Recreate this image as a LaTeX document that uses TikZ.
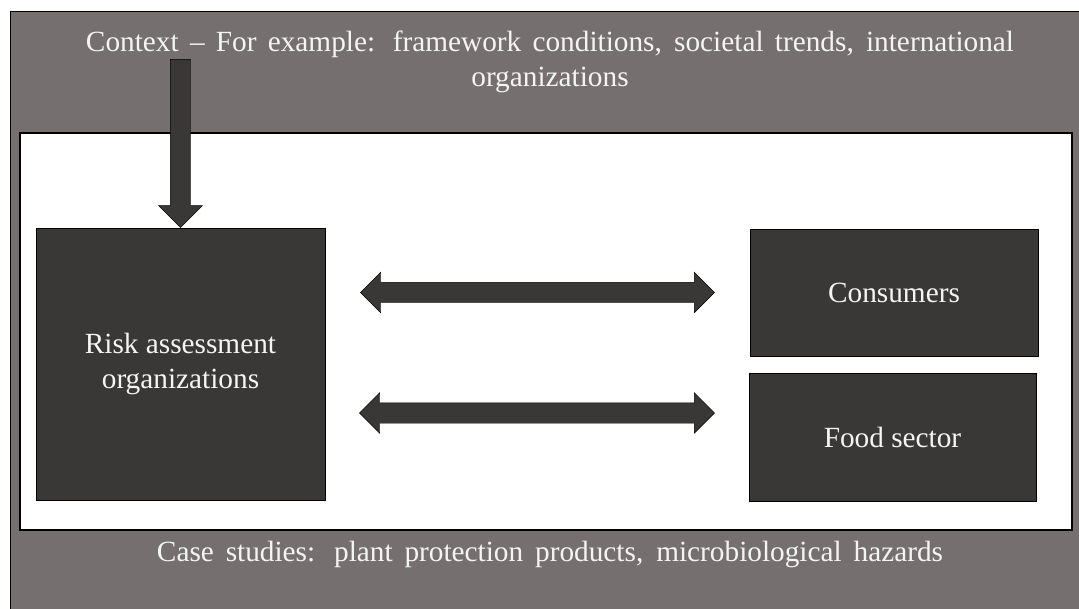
\documentclass[tikz,border=0pt]{standalone}
\usepackage{fontspec}
\setmainfont{Liberation Serif}
\usepackage{xcolor}
\usetikzlibrary{positioning, calc, shapes.arrows}

\definecolor{framegray}{HTML}{75706F}
\definecolor{boxdark}{HTML}{3A3837}
\definecolor{lighttext}{HTML}{F4F4F4}

\begin{document}
\begin{tikzpicture}[x=0.3mm, y=-0.3mm, font=\fontsize{25}{30}\selectfont]
    \tikzstyle{actor} = [draw, fill=boxdark, text=lighttext, text centered,
        align=center, inner sep=0pt]
    \tikzstyle{link} = [double arrow, draw, fill=boxdark, inner sep=10*0.3mm,
        minimum width=40*0.3mm, double arrow head extend=10*0.3mm]
    \tikzstyle{feed} = [single arrow, draw, fill=boxdark, inner sep=10*0.3mm,
        minimum width=43*0.3mm, single arrow head extend=11.5*0.3mm,
        shape border rotate=270]
    \useasboundingbox (0,0) rectangle (1079,608);
    \clip (0,0) rectangle (1079,608);
    % context frame and the study area inside it
    \draw[fill=framegray] (10,11) rectangle (1090,620);
    \draw[fill=white, line width=0.5mm] (20,133) rectangle (1072,530);
    \node[text=lighttext, align=center] (context) at (550,62)
        {\makebox[278.4mm][s]{Context -- For example: framework conditions, societal trends, international}\\organizations};
    \node[text=lighttext] (cases) at (550,554)
        {\makebox[235.8mm][s]{Case studies: plant protection products, microbiological hazards}};
    % actors
    \node[actor, minimum width=289*0.3mm, minimum height=272*0.3mm] at (180.5,364) (risk)
        {\raisebox{-6pt}{\parbox{8cm}{\centering Risk assessment\\organizations}}};
    \node[actor, minimum width=288*0.3mm, minimum height=127*0.3mm] at (894,292.5) (cons)
        {\raisebox{-3pt}{Consumers}};
    \node[actor, minimum width=287*0.3mm, minimum height=128*0.3mm] at (892.5,437) (food) {Food sector};
    % influence of the context and the exchanges
    \node[feed, minimum height=168*0.3mm, anchor=tip] (ctxarrow) at (risk.north) {};
    \node[link, minimum height=354*0.3mm] (conslink)
        at ($(risk.east |- cons.west)!.5!(cons.west)$) {};
    \node[link, minimum height=355*0.3mm, yshift=24*0.3mm] (foodlink)
        at ($(risk.east |- food.west)!.5!(food.west)$) {};
\end{tikzpicture}
\end{document}
